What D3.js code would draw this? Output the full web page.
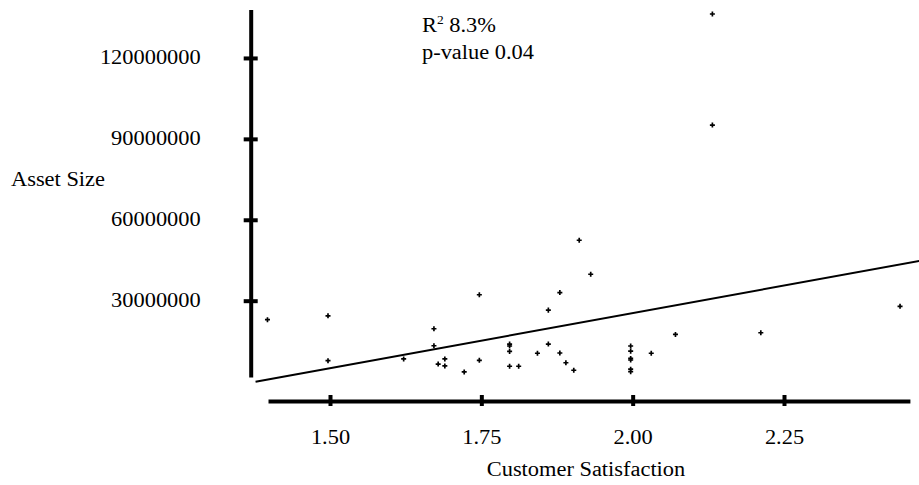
<!DOCTYPE html>
<html>
<head>
<meta charset="utf-8">
<script src="https://cdn.jsdelivr.net/npm/d3@7"></script>
<style>
  html, body { margin: 0; padding: 0; background: #fff; }
  svg { display: block; }
  text { font-family: "Liberation Serif", "Times New Roman", Times, serif; fill: #000; }
</style>
</head>
<body>
<svg id="chart" width="919" height="485"></svg>
<script>
// Customer satisfaction score of each bank
const satisfaction = [
  1.40, 1.50, 1.50, 1.625, 1.675, 1.675, 1.682, 1.693, 1.693, 1.725,
  1.75, 1.75, 1.80, 1.80, 1.80, 1.80, 1.815, 1.846, 1.864, 1.864,
  1.883, 1.883, 1.893, 1.906, 1.915, 1.934, 2.00, 2.00, 2.00, 2.00,
  2.00, 2.00, 2.034, 2.074, 2.135, 2.135, 2.215, 2.445
];
// Asset size of each bank
const assetSize = [
  22.95e6, 24.4e6, 7.75e6, 8.4e6, 19.6e6, 13.3e6, 6.5e6, 8.4e6, 5.8e6, 3.6e6,
  7.9e6, 32.2e6, 13.9e6, 13.2e6, 11.2e6, 5.7e6, 5.7e6, 10.5e6, 13.9e6, 26.5e6,
  10.6e6, 33.0e6, 7.0e6, 4.2e6, 52.4e6, 39.8e6, 13.2e6, 11.3e6, 8.6e6, 8.0e6,
  4.6e6, 3.7e6, 10.5e6, 17.5e6, 136.3e6, 95.1e6, 18.1e6, 27.9e6
];

// Fitted regression line: assetSize = intercept + slope * satisfaction
const regIntercept = -56.4e6;
const regSlope = 40.9e6;
const regExtent = [1.377, 2.50];

const xTicks = [1.50, 1.75, 2.00, 2.25];
const xTickLabels = ["1.50", "1.75", "2.00", "2.25"];
const yTicks = [30e6, 60e6, 90e6, 120e6];
const yTickLabels = ["30000000", "60000000", "90000000", "120000000"];

const statLines = ["8.3%", "p-value 0.04"];
const xTitle = "Customer Satisfaction";
const yTitle = "Asset Size";

const svg = d3.select("#chart");

const x = d3.scaleLinear().domain([1.5, 2.25]).range([330, 784]);
const y = d3.scaleLinear().domain([0, 138e6]).range([381.6, 9.4]);

// axis lines cover slightly narrower spans than the plotting scales
const xAxisScale = x.copy().domain([1.3976, 2.458]).range([x(1.3976), x(2.458)]);
const yAxisScale = y.copy().domain([1.7e6, 138e6]).range([y(1.7e6), y(138e6)]);

// regression line
const regLine = d3.line().x(d => x(d)).y(d => y(regIntercept + regSlope * d));
svg.append("path")
  .datum(regExtent)
  .attr("d", regLine)
  .attr("fill", "none")
  .attr("stroke", "#000")
  .attr("stroke-width", 2);

// data points
const cross = d3.symbol().type(d3.symbolCross).size(14);
svg.append("g")
  .selectAll("path")
  .data(satisfaction.map((s, i) => [s, assetSize[i]]))
  .join("path")
  .attr("d", cross)
  .attr("transform", d => `translate(${x(d[0]) - 2},${y(d[1])})`)
  .attr("fill", "#000");

// x axis
const gx = svg.append("g")
  .attr("transform", "translate(0,401)")
  .call(d3.axisBottom(xAxisScale)
    .tickValues(xTicks)
    .tickFormat((d, i) => xTickLabels[i])
    .tickSizeOuter(0));
gx.select(".domain").attr("stroke-width", 4);
gx.selectAll(".tick line").attr("y1", -6).attr("y2", 5).attr("stroke-width", 4);
gx.selectAll(".tick text")
  .attr("y", 43).attr("dy", null)
  .attr("font-size", 20)
  .attr("font-family", null);

// y axis
const gy = svg.append("g")
  .attr("transform", "translate(250.7,0)")
  .call(d3.axisLeft(yAxisScale)
    .tickValues(yTicks)
    .tickFormat((d, i) => yTickLabels[i])
    .tickSizeOuter(0));
gy.select(".domain").attr("stroke-width", 4);
gy.selectAll(".tick line").attr("x1", -7).attr("x2", 7).attr("stroke-width", 4);
gy.selectAll(".tick text")
  .attr("x", -50).attr("dy", "0.3em")
  .attr("font-size", 20)
  .attr("font-family", null);
svg.selectAll(".domain, .tick line").attr("stroke", "#000");

// axis titles
svg.append("text")
  .attr("x", 586).attr("y", 476)
  .attr("text-anchor", "middle")
  .attr("font-size", 20)
  .text(xTitle);
svg.append("text")
  .attr("x", 11).attr("y", 186)
  .attr("font-size", 20)
  .text(yTitle);

// fit statistics
const stat = svg.append("text")
  .attr("x", 422).attr("y", 32)
  .attr("font-size", 20);
stat.append("tspan").text("R");
stat.append("tspan").attr("dy", -8).attr("font-size", 12).text("2");
stat.append("tspan").attr("dy", 8).text(" " + statLines[0]);
svg.append("text")
  .attr("x", 422).attr("y", 59)
  .attr("font-size", 20)
  .text(statLines[1]);

// widen the serif glyphs a little to the face's proportions
svg.selectAll("text").each(function () {
  const w = this.getComputedTextLength();
  d3.select(this)
    .attr("textLength", w * 1.12)
    .attr("lengthAdjust", "spacingAndGlyphs");
});
</script>
</body>
</html>
